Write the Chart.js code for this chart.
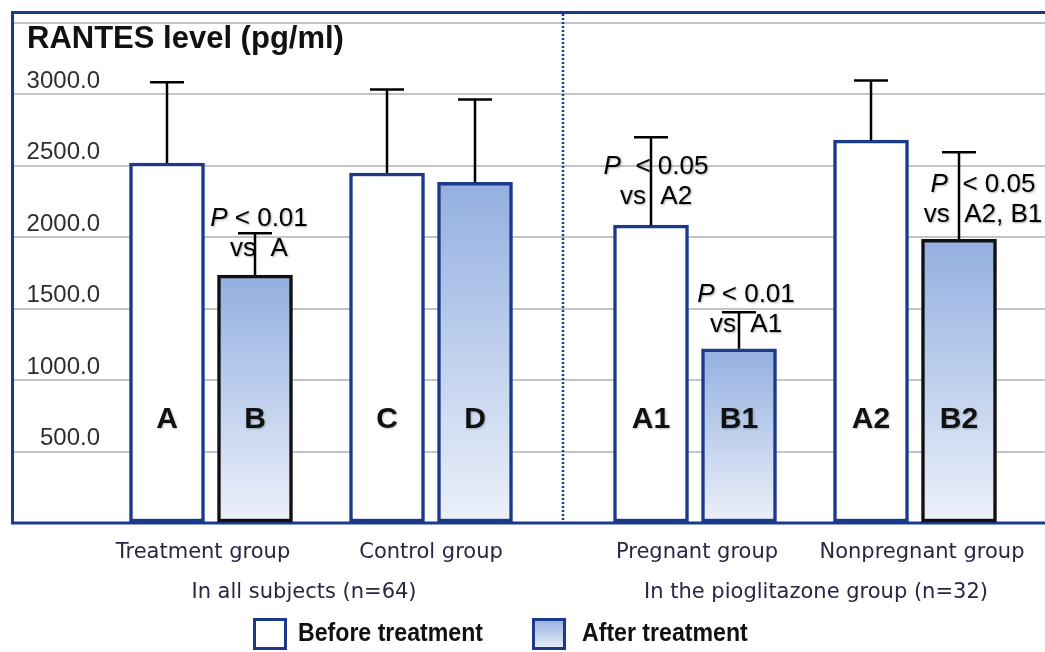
<!DOCTYPE html>
<html><head><meta charset="utf-8">
<script src="https://cdn.jsdelivr.net/npm/chart.js@4.4.1/dist/chart.umd.min.js"></script>
<style>
html,body{margin:0;padding:0;background:#fff;overflow:hidden}
#wrap{width:1045px;height:652px;overflow:hidden;position:relative;background:#fff}
canvas{display:block}
</style></head>
<body><div id="wrap"><canvas id="c" width="1075" height="652"></canvas></div>
<script>
// ---------- data ----------
const categories = ['A', 'B', 'C', 'D', 'A1', 'B1', 'A2', 'B2'];
const beforeNames = ['A', 'C', 'A1', 'A2'];
const beforeValues = [2520, 2450, 2085, 2680];
const beforeSD = [565, 585, 615, 417];
const afterNames = ['B', 'D', 'B1', 'B2'];
const afterValues = [1735, 2385, 1220, 1985];
const afterSD = [293, 580, 255, 610];
const yTickLabels = [500, 1000, 1500, 2000, 2500, 3000];
const groupLabels = ['Treatment group', 'Control group', 'Pregnant group', 'Nonpregnant group'];
const groupMembers = [['A', 'B'], ['C', 'D'], ['A1', 'B1'], ['A2', 'B2']];
const sectionLabels = ['In all subjects (n=64)', 'In the pioglitazone group (n=32)'];
const sectionMembers = [['A', 'B', 'C', 'D'], ['A1', 'B1', 'A2', 'B2']];
const legendLabels = ['Before treatment', 'After treatment'];
const yTitle = 'RANTES level (pg/ml)';
const annotations = [
  { bar: 'B',  gap: ' ',  line1: '< 0.01', line2: 'vs  A' },
  { bar: 'A1', gap: '  ', line1: '< 0.05', line2: 'vs  A2' },
  { bar: 'B1', gap: ' ',  line1: '< 0.01', line2: 'vs  A1' },
  { bar: 'B2', gap: '  ', line1: '< 0.05', line2: 'vs  A2, B1' }
];

// ---------- layout / style ----------
const TOTAL_SLOTS = 22;
const slotOf = { A: 1, B: 3, C: 6, D: 8, A1: 12, B1: 14, A2: 17, B2: 19 };
const separatorSlot = 10;
const annoLayout = { B: { dx: 4, yv: 2140 }, A1: { dx: 5, yv: 2503 }, B1: { dx: 7, yv: 1608 }, B2: { dx: 24, yv: 2377 } };
const groupDx = [-8, 0, 2, 7];
const sectionDx = [-17, 11];
const BLUE = '#1c3a8a';
const afterBorder = { B: '#111111', D: BLUE, B1: BLUE, B2: '#111111' };
const GRAD_TOP = '#93afe0', GRAD_BOT = '#ecf1fa';
const FONT = '"Liberation Sans", Arial, sans-serif';
const FRAME_TOP = 12;

const slotLabels = Array.from({ length: TOTAL_SLOTS }, (_, i) => categories.find(c => slotOf[c] === i) || '');
function slotData(names, values) {
  const arr = new Array(TOTAL_SLOTS).fill(null);
  names.forEach((n, i) => { arr[slotOf[n]] = values[i]; });
  return arr;
}

function gradientFor(chart, v) {
  const ca = chart.chartArea;
  if (!ca || v == null) return 'rgba(0,0,0,0)';
  const top = chart.scales.y.getPixelForValue(v);
  const g = chart.ctx.createLinearGradient(0, top, 0, ca.bottom);
  g.addColorStop(0, GRAD_TOP);
  g.addColorStop(1, GRAD_BOT);
  return g;
}

const deco = {
  id: 'deco',
  beforeDatasetsDraw(chart) {
    const { ctx, chartArea: ca, scales: { x, y } } = chart;
    ctx.save();
    // frame
    ctx.strokeStyle = BLUE; ctx.lineWidth = 3;
    ctx.strokeRect(y.left - 0.5, FRAME_TOP + 0.5, ca.right + 20 - y.left, ca.bottom - FRAME_TOP - 0.5);
    const sx = x.getPixelForValue(separatorSlot);
    ctx.setLineDash([2, 2]); ctx.lineWidth = 2.5;
    ctx.beginPath(); ctx.moveTo(sx, FRAME_TOP + 2); ctx.lineTo(sx, ca.bottom); ctx.stroke();
    ctx.restore();
  },
  afterDatasetsDraw(chart) {
    const { ctx, chartArea: ca, scales: { x, y } } = chart;
    ctx.save();
    // title
    ctx.fillStyle = '#111'; ctx.textAlign = 'left'; ctx.textBaseline = 'alphabetic';
    ctx.font = 'bold 31px ' + FONT;
    ctx.fillText(yTitle, 27, 48);
    // bar names
    ctx.font = 'bold 30px ' + FONT; ctx.textAlign = 'center';
    ctx.shadowColor = 'rgba(0,0,0,0.25)'; ctx.shadowBlur = 2; ctx.shadowOffsetX = 1; ctx.shadowOffsetY = 1;
    categories.forEach(c => ctx.fillText(c, x.getPixelForValue(slotOf[c]), ca.bottom - 95));
    // annotations
    ctx.fillStyle = '#000';
    ctx.shadowColor = 'rgba(0,0,0,0.35)';
    const fN = '26px ' + FONT, fI = 'italic 26px ' + FONT;
    annotations.forEach(a => {
      const L = annoLayout[a.bar];
      const cx = x.getPixelForValue(slotOf[a.bar]) + L.dx;
      const base = y.getPixelForValue(L.yv) + 9;
      ctx.font = fI; const wP = ctx.measureText('P').width;
      ctx.font = fN; const wR = ctx.measureText(a.gap + a.line1).width;
      const x0 = cx - (wP + wR) / 2;
      ctx.textAlign = 'left';
      ctx.font = fI; ctx.fillText('P', x0, base);
      ctx.font = fN; ctx.fillText(a.gap + a.line1, x0 + wP, base);
      ctx.textAlign = 'center';
      ctx.fillText(a.line2, cx, base + 30);
    });
    ctx.shadowColor = 'rgba(0,0,0,0)';
    // error bars
    ctx.strokeStyle = '#000'; ctx.lineWidth = 2.5;
    const drawErr = (names, vals, sds) => names.forEach((n, i) => {
      const px = x.getPixelForValue(slotOf[n]);
      const y0 = y.getPixelForValue(vals[i]);
      const y1 = y.getPixelForValue(vals[i] + sds[i]);
      ctx.beginPath(); ctx.moveTo(px, y0); ctx.lineTo(px, y1);
      ctx.moveTo(px - 17, y1); ctx.lineTo(px + 17, y1); ctx.stroke();
    });
    drawErr(beforeNames, beforeValues, beforeSD);
    drawErr(afterNames, afterValues, afterSD);
    // x labels (two levels)
    ctx.fillStyle = '#2c2444'; ctx.font = '21px "DejaVu Sans", sans-serif'; ctx.textAlign = 'center';
    groupLabels.forEach((t, i) => {
      const m = groupMembers[i].map(n => x.getPixelForValue(slotOf[n]));
      ctx.fillText(t, (m[0] + m[1]) / 2 + groupDx[i], 558);
    });
    sectionLabels.forEach((t, i) => {
      const m = sectionMembers[i].map(n => x.getPixelForValue(slotOf[n]));
      ctx.fillText(t, m.reduce((a, b) => a + b, 0) / m.length + sectionDx[i], 598);
    });
    // legend (condensed bold text)
    let lx = 253;
    const ly = 618, bw = 34, bh = 32, gaps = [11, 16];
    ctx.font = 'bold 26px ' + FONT;
    const sxl = 185 / ctx.measureText(legendLabels[0]).width;
    ctx.textAlign = 'left';
    legendLabels.forEach((t, i) => {
      if (i === 0) { ctx.fillStyle = '#fff'; }
      else {
        const g = ctx.createLinearGradient(0, ly, 0, ly + bh);
        g.addColorStop(0, GRAD_TOP); g.addColorStop(1, GRAD_BOT); ctx.fillStyle = g;
      }
      ctx.fillRect(lx, ly, bw, bh);
      ctx.strokeStyle = BLUE; ctx.lineWidth = 3;
      ctx.strokeRect(lx + 1.5, ly + 1.5, bw - 3, bh - 3);
      ctx.fillStyle = '#111';
      const tx = lx + bw + gaps[i];
      ctx.save(); ctx.translate(tx, 641); ctx.scale(sxl, 1);
      ctx.fillText(t, 0, 0);
      ctx.restore();
      lx = tx + ctx.measureText(t).width * sxl + 49;
    });
    ctx.restore();
  }
};

new Chart(document.getElementById('c'), {
  type: 'bar',
  data: {
    labels: slotLabels,
    datasets: [
      {
        label: legendLabels[0],
        data: slotData(beforeNames, beforeValues),
        backgroundColor: '#ffffff',
        borderColor: BLUE,
        borderWidth: 3.5,
        borderSkipped: false,
        barThickness: 75,
        grouped: false
      },
      {
        label: legendLabels[1],
        data: slotData(afterNames, afterValues),
        backgroundColor: c => gradientFor(c.chart, c.raw),
        borderColor: c => afterBorder[slotLabels[c.dataIndex]] || BLUE,
        borderWidth: 3.5,
        borderSkipped: false,
        barThickness: 75,
        grouped: false
      }
    ]
  },
  options: {
    responsive: false,
    animation: false,
    devicePixelRatio: 1,
    layout: { padding: { left: 13, right: 6, top: 23, bottom: 129 } },
    plugins: { legend: { display: false }, tooltip: { enabled: false }, title: { display: false } },
    scales: {
      x: { type: 'category', display: false, offset: true },
      y: {
        min: 0, max: 3500,
        border: { display: false },
        grid: { color: '#c4c4c4', lineWidth: 2, drawTicks: true, tickLength: 88, tickColor: '#c4c4c4' },
        ticks: {
          stepSize: 500, padding: -87, labelOffset: -13,
          color: '#2e2e2e', font: { family: FONT, size: 24 },
          callback: v => yTickLabels.includes(v) ? Number(v).toFixed(1) : ''
        },
        afterFit(s) { s.width = 88; }
      }
    }
  },
  plugins: [deco]
});
</script></body></html>
